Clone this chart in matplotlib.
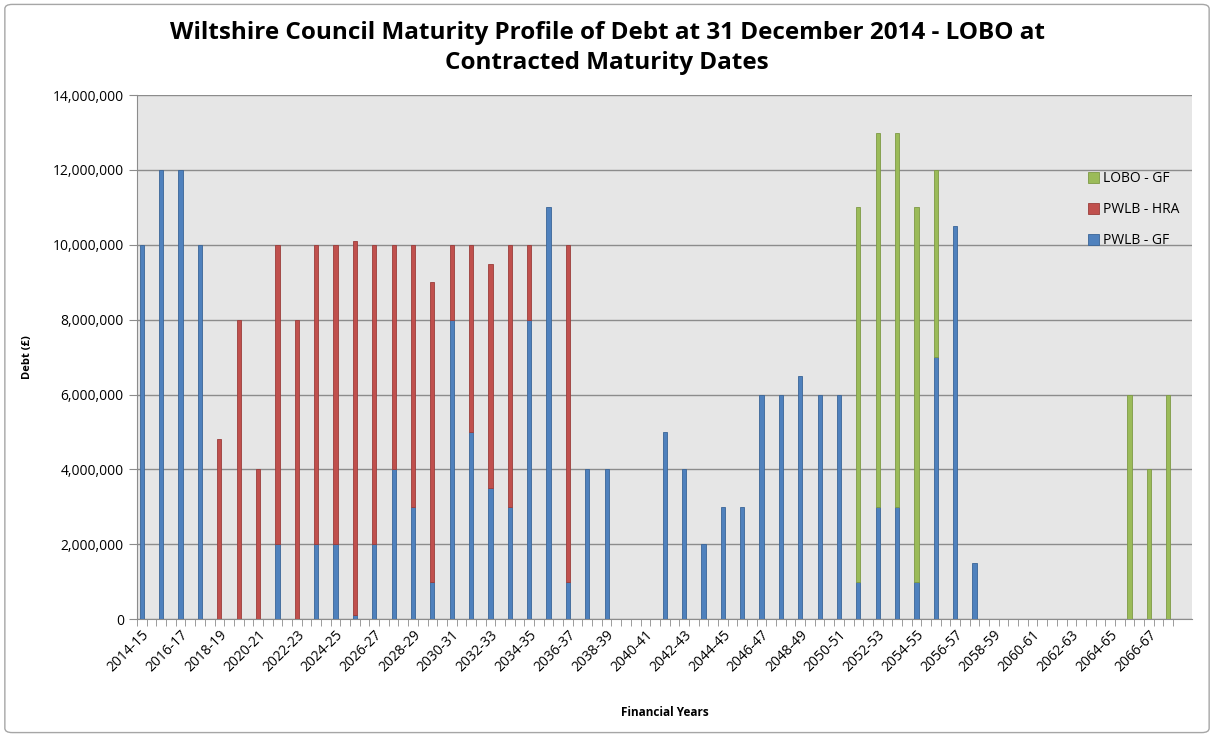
import numpy as np
import matplotlib
matplotlib.use("Agg")
import matplotlib.pyplot as plt
from matplotlib.patches import FancyBboxPatch
from matplotlib.ticker import FuncFormatter, FixedLocator

# Financial years 2014-15 .. 2067-68
years = ["%d-%02d" % (y, (y + 1) % 100) for y in range(2014, 2068)]

# Values in £
pwlb_gf = [10.0e6, 12.0e6, 12.0e6, 10.0e6, 0, 0, 0, 2.0e6, 0, 2.0e6,
           2.0e6, 0.1e6, 2.0e6, 4.0e6, 3.0e6, 1.0e6, 8.0e6, 5.0e6, 3.5e6, 3.0e6,
           8.0e6, 11.0e6, 1.0e6, 4.0e6, 4.0e6, 0, 0, 5.0e6, 4.0e6, 2.0e6,
           3.0e6, 3.0e6, 6.0e6, 6.0e6, 6.5e6, 6.0e6, 6.0e6, 1.0e6, 3.0e6, 3.0e6,
           1.0e6, 7.0e6, 10.5e6, 1.5e6, 0, 0, 0, 0, 0, 0,
           0, 0, 0, 0]
pwlb_hra = [0, 0, 0, 0, 4.8e6, 8.0e6, 4.0e6, 8.0e6, 8.0e6, 8.0e6,
            8.0e6, 10.0e6, 8.0e6, 6.0e6, 7.0e6, 8.0e6, 2.0e6, 5.0e6, 6.0e6, 7.0e6,
            2.0e6, 0, 9.0e6, 0, 0, 0, 0, 0, 0, 0,
            0, 0, 0, 0, 0, 0, 0, 0, 0, 0,
            0, 0, 0, 0, 0, 0, 0, 0, 0, 0,
            0, 0, 0, 0]
lobo_gf = [0] * 37 + [10.0e6, 10.0e6, 10.0e6, 10.0e6, 5.0e6] + [0] * 9 + [6.0e6, 4.0e6, 6.0e6]

BLUE = "#4F81BD"
RED = "#C0504D"
GREEN = "#9BBB59"


def stacked(ax, x, vals, bottom, color, edge, label, w):
    """Draw one stacked series, skipping zero segments"""
    keep = vals > 0
    ax.bar(x[keep], vals[keep], width=w, bottom=bottom[keep], color=color,
           edgecolor=edge, linewidth=0.6, label=label, zorder=3)


def main():
    fig = plt.figure(figsize=(12.14, 7.37), dpi=100)
    plt.rcParams['font.family'] = ['Open Sans', 'DejaVu Sans']

    # outer chart border
    fig.patches.append(FancyBboxPatch((0.004, 0.006), 0.992, 0.988,
                                      boxstyle="round,pad=0,rounding_size=0.006",
                                      transform=fig.transFigure, fill=False,
                                      edgecolor="#a6a6a6", linewidth=1.0))

    ax = fig.add_axes([0.1129, 0.160, 0.8693, 0.711])
    ax.set_facecolor("#E6E6E6")

    x = np.arange(len(years))
    gf = np.array(pwlb_gf)
    hra = np.array(pwlb_hra)
    lobo = np.array(lobo_gf)
    w = 0.22
    stacked(ax, x, gf, np.zeros_like(gf), BLUE, "#3A6597", "PWLB - GF", w)
    stacked(ax, x, hra, gf, RED, "#9B3D3A", "PWLB - HRA", w)
    stacked(ax, x, lobo, gf + hra, GREEN, "#7E9A45", "LOBO - GF", w)

    ax.set_xlim(-0.25, 54.25)
    ax.set_ylim(0, 14e6)
    ax.set_yticks(np.arange(0, 14e6 + 1, 2e6))
    ax.yaxis.set_major_formatter(FuncFormatter(lambda v, p: "{:,.0f}".format(v)))
    ax.grid(axis="y", color="#8c8c8c", linewidth=1.0, zorder=0)

    ax.set_xticks(x[::2])
    ax.set_xticklabels(years[::2], rotation=45, ha="right", rotation_mode="anchor",
                       fontsize=10)
    ax.xaxis.set_minor_locator(FixedLocator(np.concatenate([x - 0.25, x + 0.25])))
    ax.tick_params(axis="x", which="major", length=0, pad=6)
    ax.tick_params(axis="x", which="minor", length=5, color="#8c8c8c", direction="out")
    ax.tick_params(axis="y", length=6, color="#8c8c8c", labelsize=10)

    for s in ["top", "right"]:
        ax.spines[s].set_visible(False)
    for s in ["left", "bottom"]:
        ax.spines[s].set_color("#8c8c8c")

    ax.set_ylabel("Debt (£)", fontsize=8, fontweight="bold", labelpad=14)
    ax.set_xlabel("Financial Years", fontsize=8.5, fontweight="bold", labelpad=22)

    fig.suptitle("Wiltshire Council Maturity Profile of Debt at 31 December 2014 - LOBO at\n"
                 "Contracted Maturity Dates", fontsize=17.5, fontweight="bold",
                 y=0.972, linespacing=1.35)

    handles, labels = ax.get_legend_handles_labels()
    ax.legend(handles[::-1], labels[::-1], loc="upper left",
              bbox_to_anchor=(0.896, 0.865), frameon=False, fontsize=10,
              handlelength=0.75, handleheight=0.75, handletextpad=0.3,
              labelspacing=1.15, borderaxespad=0)

    fig.savefig("out.png", dpi=100)


if __name__ == "__main__":
    main()
